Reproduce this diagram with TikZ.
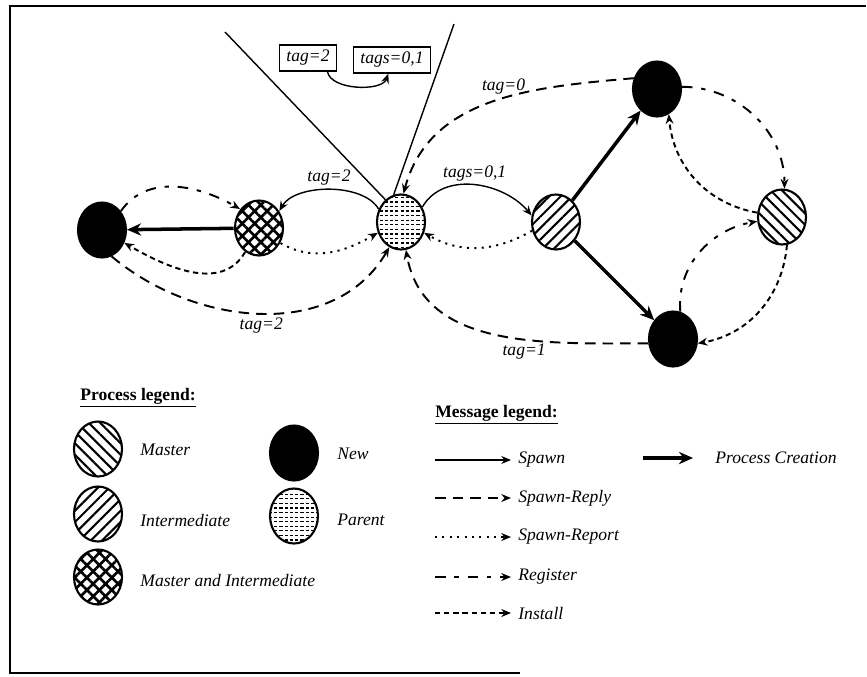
\documentclass[tikz,border=0pt]{standalone}
\usepackage{fontspec}
\setmainfont{Liberation Serif}
\usepackage{tikz}
\usetikzlibrary{arrows,arrows.meta,positioning,calc,patterns,patterns.meta,shapes.geometric}

\pgfdeclarepatternformonly{parentdash}{\pgfpoint{-1pt}{-1pt}}{\pgfpoint{4pt}{4pt}}{\pgfpoint{3pt}{2.6pt}}{%
  \pgfsetlinewidth{0.7pt}
  \pgfpathmoveto{\pgfpoint{0pt}{0pt}}
  \pgfpathlineto{\pgfpoint{1.8pt}{0pt}}
  \pgfusepath{stroke}}

\tikzset{
  proc/.style={
    ellipse, draw, line width=1.2pt, inner sep=0pt,
    minimum width=0.96cm, minimum height=1.1cm
  },
  newproc/.style={proc, fill=black},
  masterproc/.style={proc, pattern={Lines[angle=-45,distance=4.6pt,line width=1.2pt]}},
  interproc/.style={proc, pattern={Lines[angle=45,distance=4.6pt,line width=1.2pt]}},
  mixproc/.style={
    proc, pattern={Lines[angle=45,distance=5pt,line width=1.5pt]},
    postaction={pattern={Lines[angle=-45,distance=5pt,line width=1.5pt]}}
  },
  parentproc/.style={proc, pattern=parentdash},
  spawnmsg/.style={->, >={Stealth[length=5.5pt,width=4.5pt]}, line width=0.8pt},
  replymsg/.style={->, >={Stealth[length=5.5pt,width=4.5pt]}, line width=1.1pt, dash pattern=on 6pt off 4pt},
  reportmsg/.style={->, >={Stealth[length=5.5pt,width=4.5pt]}, line width=1.1pt, dash pattern=on 1.2pt off 3pt},
  registermsg/.style={->, >={Stealth[length=5.5pt,width=4.5pt]}, line width=1.1pt, dash pattern=on 6pt off 5pt on 2.5pt off 5pt},
  installmsg/.style={->, >={Stealth[length=5.5pt,width=4.5pt]}, line width=1.1pt, dash pattern=on 3pt off 2.2pt},
  creation/.style={->, >={Stealth[length=8pt,width=7pt]}, line width=2pt},
  taglbl/.style={font=\itshape, inner sep=2pt},
  tagbox/.style={draw, line width=0.8pt, font=\itshape, inner xsep=4pt, inner ysep=3pt},
  legtext/.style={anchor=west, font=\itshape, inner sep=4pt},
  legtitle/.style={anchor=base west, inner sep=0pt, font=\bfseries}
}

\begin{document}
\begin{tikzpicture}[x=0.02cm, y=-0.02cm]
  \useasboundingbox (0,0) rectangle (867,677);
  \draw[line width=1.4pt] (520,673) -- (10,673) -- (10,6) -- (866,6);

  % processes
  \node[newproc] (N1) at (102,230) {};
  \node[mixproc] (MI) at (259,228) {};
  \node[parentproc] (P) at (401,222) {};
  \node[interproc] (I) at (556,222) {};
  \node[newproc] (N2) at (657,89) {};
  \node[masterproc] (M) at (782,217) {};
  \node[newproc] (N3) at (673,339) {};

  % tag boxes
  \node[tagbox] (box2) at (308,58) {tag=2};
  \node[tagbox] (box01) at (392,60) {tags=0,1};
  \draw[spawnmsg] (box2.-35) to[out=-80,in=-110,looseness=0.8] (box01.-105);
  \coordinate (coneL) at (225,32);
  \coordinate (coneR) at (454,24);
  \draw[line width=0.8pt] (coneL) -- (P.125);
  \draw[line width=0.8pt] (coneR) -- (P.105);

  % left part
  \draw[creation] (MI) -- (N1);
  \draw[registermsg] (N1.45) to[out=55,in=150] (MI.135);
  \draw[installmsg] (MI.240) to[out=-120,in=-30] (N1.330);
  \draw[spawnmsg] (P.150) to[out=120,in=60,looseness=0.8] node[taglbl,above]{tag=2} (MI.40);
  \draw[reportmsg] (MI.-35) to[out=-30,in=-150] (P.205);
  \draw[replymsg] (N1.-70) to[out=-40,in=-120] node[taglbl,below]{tag=2} (P.245);

  % right part
  \draw[spawnmsg] (P.35) to[out=60,in=130] node[taglbl,above]{tags=0,1} (I.165);
  \draw[reportmsg] (I.200) to[out=-150,in=-30] (P.-25);
  \draw[replymsg] (N2.155) to[out=185,in=75] node[taglbl,above,pos=0.45]{tag=0} (P.85);
  \draw[replymsg] (N3.190) to[out=180,in=-80] node[taglbl,below,pos=0.4]{tag=1} (P.-80);
  \draw[creation] (I) -- (N2);
  \draw[creation] (I) -- (N3);
  \draw[registermsg] (N2.5) to[out=0,in=90] (M.85);
  \draw[installmsg] (M.170) to[out=170,in=-85] (N2.-65);
  \draw[registermsg] (N3.75) to[out=95,in=190] (M.190);
  \draw[installmsg] (M.-80) to[out=-95,in=10] (N3.-10);

  % process legend
  \node[legtitle] (proctitle) at (80,400) {\underline{Process legend:}};
  \node[masterproc] (lgM) at (98,449) {};
  \node[legtext] (ltM) at (133,450) {Master};
  \node[interproc] (lgI) at (98,514) {};
  \node[legtext] (ltI) at (133,520) {Intermediate};
  \node[mixproc] (lgMI) at (98,577) {};
  \node[legtext] (ltMI) at (133,580) {Master and Intermediate};
  \node[newproc] (lgN) at (294,453) {};
  \node[legtext] (ltN) at (330,454) {New};
  \node[parentproc] (lgP) at (294,516) {};
  \node[legtext] (ltP) at (330,520) {Parent};

  % message legend
  \node[legtitle] (msgtitle) at (435,417) {\underline{Message legend:}};
  \coordinate (lsSpawn) at (435,460);
  \node[legtext] (ltSpawn) at (511,460) {Spawn};
  \draw[spawnmsg] (lsSpawn) -- (ltSpawn);
  \coordinate (lsReply) at (435,498);
  \node[legtext] (ltReply) at (511,498) {Spawn-Reply};
  \draw[replymsg] (lsReply) -- (ltReply);
  \coordinate (lsReport) at (435,537);
  \node[legtext] (ltReport) at (511,537) {Spawn-Report};
  \draw[reportmsg] (lsReport) -- (ltReport);
  \coordinate (lsRegister) at (435,577);
  \node[legtext] (ltRegister) at (511,577) {Register};
  \draw[registermsg] (lsRegister) -- (ltRegister);
  \coordinate (lsInstall) at (435,613);
  \node[legtext] (ltInstall) at (511,613) {Install};
  \draw[installmsg] (lsInstall) -- (ltInstall);
  \coordinate (lsCreate) at (643,458);
  \node[legtext] (ltCreate) at (708,458) {Process Creation};
  \draw[creation, shorten >=0.3cm] (lsCreate) -- (ltCreate);
\end{tikzpicture}
\end{document}
